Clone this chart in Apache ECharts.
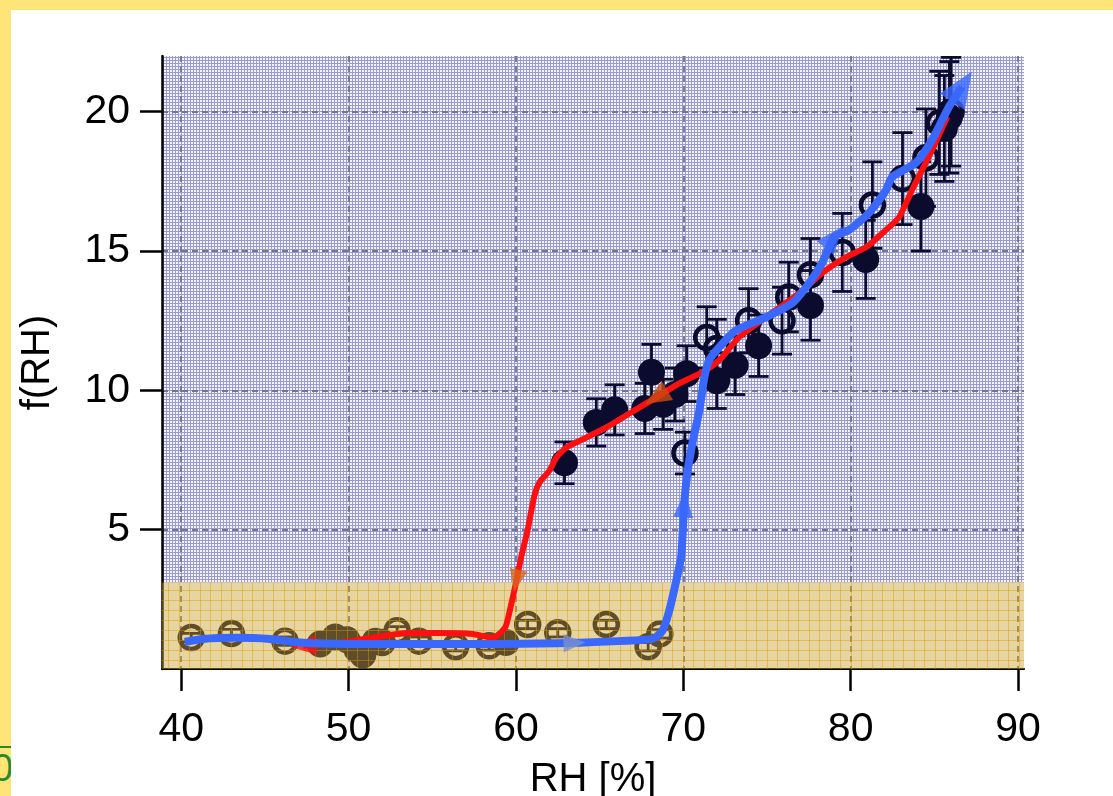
<!DOCTYPE html>
<html>
<head>
<meta charset="utf-8">
<script src="https://cdn.jsdelivr.net/npm/echarts@6/dist/echarts.min.js"></script>
<style>
  html, body { margin: 0; padding: 0; width: 1113px; height: 796px; overflow: hidden; background: #FFE477; }
  #frame { position: absolute; left: 11px; top: 10px; width: 1102px; height: 786px; background: #fff; }
  #chart { width: 100%; height: 100%; }
  #stray { position: absolute; left: -16px; top: 746px; font: 38px "Liberation Sans", sans-serif; color: #2a8a2a;
           border-top: 2px solid #2a8a2a; padding-left: 8px; line-height: 40px; }
</style>
</head>
<body>
<div id="stray">0</div>
<div id="frame"><div id="chart"></div></div>
<script>
// ── data ─────────────────────────────────────────────
const xMin = 38.85, xMax = 90.36;
const yMin = 0, yMax = 22;
const xTicks = [40, 50, 60, 70, 80, 90];
const yTicks = [5, 10, 15, 20];
const bandTop = 3.1;

// filled circles (decreasing RH)
const filledRH  = [48.3, 49.2, 49.9, 50.5, 50.85, 51.6, 59.4, 62.9, 64.8, 65.9, 67.7, 68.1, 68.8, 69.5, 70.2, 72.0, 73.1, 74.5, 77.6, 80.9, 84.2, 85.6, 85.9];
const filledF   = [0.9, 1.15, 1.05, 0.7, 0.5, 1.0, 0.95, 7.4, 8.85, 9.3, 9.35, 10.65, 9.5, 9.85, 10.6, 10.35, 10.9, 11.6, 13.05, 14.7, 16.6, 19.4, 19.8];
const filledErr = [0.15, 0.15, 0.15, 0.15, 0.15, 0.15, 0.15, 0.75, 0.85, 0.9, 0.9, 1.0, 0.9, 0.95, 1.0, 1.0, 1.05, 1.1, 1.25, 1.4, 1.6, 1.9, 2.0];

// open circles (increasing RH)
const openRH  = [40.6, 43.0, 46.2, 52.0, 52.9, 54.2, 56.4, 58.4, 60.7, 62.5, 65.4, 67.9, 68.6, 70.1, 71.4, 72.0, 73.9, 75.9, 76.3, 77.6, 79.5, 81.3, 83.1, 84.5, 85.3, 86.0];
const openF   = [1.13, 1.27, 1.0, 0.95, 1.37, 1.0, 0.8, 0.83, 1.6, 1.3, 1.6, 0.8, 1.26, 7.75, 11.9, 11.5, 12.5, 12.5, 13.35, 14.15, 14.95, 16.65, 17.6, 18.35, 19.6, 20.0];
const openErr = [0.15, 0.15, 0.15, 0.15, 0.15, 0.15, 0.15, 0.15, 0.15, 0.15, 0.15, 0.15, 0.15, 0.75, 1.1, 1.05, 1.15, 1.2, 1.25, 1.3, 1.4, 1.55, 1.65, 1.75, 1.85, 1.95];

// red path (efflorescence, drawn from high RH down)
const redRH = [85.77, 84.87, 83.67, 82.90, 82.12, 80.93, 79.73, 78.30, 76.93, 74.96, 73.34, 72.15, 71.13, 69.76, 68.39, 66.78, 65.40, 64.21, 63.01, 62.42, 62.00, 61.40, 61.10, 60.69, 60.33, 60.03, 59.70, 59.40, 59.00, 58.60, 57.40, 55.40, 53.50, 51.40, 49.50, 47.30];
const redF  = [19.82, 18.63, 17.19, 16.22, 15.76, 15.14, 14.78, 14.21, 13.49, 12.63, 11.91, 11.08, 10.65, 10.25, 9.75, 9.17, 8.67, 8.31, 7.95, 7.59, 7.12, 6.69, 6.22, 4.96, 4.06, 3.17, 2.27, 1.55, 1.26, 1.12, 1.26, 1.29, 1.29, 1.12, 0.94, 0.83];
const redArrowIdx = [14, 25, 35];

// blue path (deliquescence, drawn from low RH up)
const blueRH = [40.21, 41.28, 43.31, 45.28, 47.25, 50.06, 54.24, 59.01, 63.5, 68.15, 68.75, 69.16, 69.58, 69.88, 70.05, 70.24, 70.54, 70.96, 71.26, 71.55, 72.15, 73.16, 74.96, 76.51, 77.52, 78.30, 79.01, 79.91, 81.10, 82.12, 82.48, 83.91, 84.87, 85.88, 86.66];
const blueF  = [0.97, 1.08, 1.12, 1.08, 0.94, 0.90, 0.90, 0.90, 0.94, 1.08, 1.37, 2.09, 3.17, 4.06, 5.9, 7.01, 8.09, 9.28, 10.47, 11.08, 11.55, 12.16, 12.63, 13.13, 13.85, 14.57, 15.50, 15.76, 16.37, 17.19, 17.66, 18.17, 18.99, 20.18, 20.90];
const blueArrowIdx = [8, 14, 26, 34];

// ── styles ───────────────────────────────────────────
const NAVY = '#0b0b2e';
const FONT = '"Liberation Sans", Arial, sans-serif';

function makePattern(w, h, draw) {
  const c = document.createElement('canvas');
  c.width = w; c.height = h;
  draw(c.getContext('2d'));
  return { image: c, repeat: 'repeat' };
}
// fine blue graph-paper texture
const gridPattern = makePattern(3, 3, ctx => {
  ctx.fillStyle = '#f4f4fc'; ctx.fillRect(0, 0, 3, 3);
  ctx.fillStyle = '#9a9ad0'; ctx.fillRect(2, 0, 1, 3); ctx.fillRect(0, 2, 3, 1);
});
// translucent gold band with coarse grid
const bandPattern = makePattern(21, 20, ctx => {
  ctx.fillStyle = 'rgba(200,160,40,0.44)'; ctx.fillRect(0, 0, 21, 20);
  ctx.fillStyle = 'rgba(215,155,0,0.45)';
  ctx.fillRect(0, 0, 1, 20); ctx.fillRect(10, 0, 1, 20);
  ctx.fillRect(0, 0, 21, 1); ctx.fillRect(0, 10, 21, 1);
});

function rectSeries(y0, y1, fill, z) {
  return {
    type: 'custom', z, silent: true, clip: true,
    data: [[xMin, y0, xMax, y1]],
    renderItem: (params, api) => {
      const a = api.coord([api.value(0), api.value(3)]);
      const b = api.coord([api.value(2), api.value(1)]);
      return { type: 'rect', shape: { x: a[0], y: a[1], width: b[0] - a[0], height: b[1] - a[1] }, style: { fill } };
    }
  };
}

function errorBarSeries(xs, ys, es) {
  return {
    type: 'custom', z: 2, silent: true, clip: true,
    data: xs.map((x, i) => [x, ys[i] - es[i], ys[i] + es[i]]),
    encode: { x: 0, y: [1, 2] },
    renderItem: (params, api) => {
      const lo = api.coord([api.value(0), api.value(1)]);
      const hi = api.coord([api.value(0), api.value(2)]);
      const hw = 10, st = { stroke: NAVY, lineWidth: 2.8 };
      return { type: 'group', children: [
        { type: 'line', shape: { x1: lo[0], y1: lo[1], x2: hi[0], y2: hi[1] }, style: st },
        { type: 'line', shape: { x1: lo[0] - hw, y1: lo[1], x2: lo[0] + hw, y2: lo[1] }, style: st },
        { type: 'line', shape: { x1: hi[0] - hw, y1: hi[1], x2: hi[0] + hw, y2: hi[1] }, style: st },
      ] };
    }
  };
}

const zip = (xs, ys) => xs.map((x, i) => [x, ys[i]]);

// ── chart ────────────────────────────────────────────
const chart = echarts.init(document.getElementById('chart'));

const axisLabelStyle = { fontSize: 41, color: '#000', fontFamily: FONT };
const splitStyle = { color: '#74748a', type: [6, 4], width: 1.8 };
const option = {
  animation: false,
  backgroundColor: '#fff',
  grid: { left: 151, top: 46, right: 89, bottom: 127, outerBoundsMode: 'none', containLabel: false },
  xAxis: {
    type: 'value', min: xMin, max: xMax, z: 1,
    axisLine: { show: true, onZero: false, lineStyle: { color: '#000', width: 2 } },
    axisTick: { show: true, customValues: xTicks, length: 22, lineStyle: { color: '#000', width: 2.5 } },
    axisLabel: Object.assign({ customValues: xTicks, margin: 40 }, axisLabelStyle),
    splitLine: { show: true, lineStyle: splitStyle },
    name: 'RH [%]', nameLocation: 'middle', nameGap: 91,
    nameTextStyle: { fontSize: 40, color: '#000', fontFamily: FONT }
  },
  yAxis: {
    type: 'value', min: yMin, max: yMax, z: 1,
    axisLine: { show: true, onZero: false, lineStyle: { color: '#000', width: 2.5 } },
    axisTick: { show: true, customValues: yTicks, length: 22, lineStyle: { color: '#000', width: 2.5 } },
    axisLabel: Object.assign({ customValues: yTicks, margin: 32 }, axisLabelStyle),
    splitLine: { show: true, lineStyle: splitStyle },
    name: 'f(RH)', nameLocation: 'middle', nameGap: 104,
    nameTextStyle: { fontSize: 40, color: '#000', fontFamily: FONT }
  },
  graphic: [{
    type: 'group', left: 185, top: 76, z: 100,
    children: [
      { type: 'rect', shape: { x: 0, y: 0, width: 171, height: 119 }, style: { fill: 'none', stroke: '#000', lineWidth: 2 } },
      { type: 'text', x: 86, y: 35, style: { text: 'NaCl', font: '44px ' + FONT, fill: '#000', align: 'center', verticalAlign: 'middle', textAlign: 'center', textVerticalAlign: 'middle' } },
      { type: 'text', x: 86, y: 85, style: { text: '100 nm', font: '44px ' + FONT, fill: '#000', align: 'center', verticalAlign: 'middle', textAlign: 'center', textVerticalAlign: 'middle' } },
    ]
  }],
  series: [
    rectSeries(bandTop, yMax, gridPattern, 0),
    errorBarSeries(filledRH, filledF, filledErr),
    errorBarSeries(openRH, openF, openErr),
    {
      type: 'scatter', z: 2, silent: true, symbol: 'circle', symbolSize: 27,
      itemStyle: { color: NAVY, opacity: 1 },
      data: zip(filledRH, filledF)
    },
    {
      type: 'scatter', z: 2, silent: true, symbol: 'circle', symbolSize: 23,
      itemStyle: { color: 'rgba(0,0,0,0)', borderColor: NAVY, borderWidth: 4.5, opacity: 1 },
      data: zip(openRH, openF)
    },
    rectSeries(yMin, bandTop, bandPattern, 3),
    {
      type: 'line', z: 4, silent: true, symbol: 'none', smooth: 0.2,
      lineStyle: { color: '#ff1010', width: 6 },
      data: zip(redRH, redF)
    },
    {
      type: 'line', z: 5, silent: true, symbol: 'none', smooth: 0.2,
      lineStyle: { color: '#3a68ff', width: 8 },
      data: zip(blueRH, blueF)
    },
    { type: 'scatter', id: 'redArrows', z: 4, silent: true, symbol: 'triangle', data: [] },
    { type: 'scatter', id: 'blueArrows', z: 6, silent: true, symbol: 'triangle', data: [] },
  ]
};
chart.setOption(option);

// ── arrowheads: rotate along the path in pixel space ──
function arrowData(xs, ys, idxs, sizes, colors) {
  return idxs.map((i, k) => {
    const a = chart.convertToPixel({ gridIndex: 0 }, [xs[Math.max(i - 1, 0)], ys[Math.max(i - 1, 0)]]);
    const b = chart.convertToPixel({ gridIndex: 0 }, [xs[Math.min(i + 1, xs.length - 1)], ys[Math.min(i + 1, xs.length - 1)]]);
    const dx = b[0] - a[0], dy = b[1] - a[1];
    const rot = Math.atan2(-dx, -dy) * 180 / Math.PI;
    return { value: [xs[i], ys[i]], symbolSize: sizes[k], symbolRotate: rot, itemStyle: { color: colors[k] } };
  });
}
chart.setOption({
  series: [
    { id: 'redArrows', data: arrowData(redRH, redF, redArrowIdx,
        [[22, 26], [18, 22], [20, 26]], ['#cc4a12', '#d8661a', '#ff1010']) },
    { id: 'blueArrows', data: arrowData(blueRH, blueF, blueArrowIdx,
        [[18, 22], [20, 26], [22, 28], [30, 36]], ['#7b8fd0', '#3a68ff', '#3a68ff', '#3a68ff']) },
  ]
});
window.addEventListener('resize', () => chart.resize());
</script>
</body>
</html>
